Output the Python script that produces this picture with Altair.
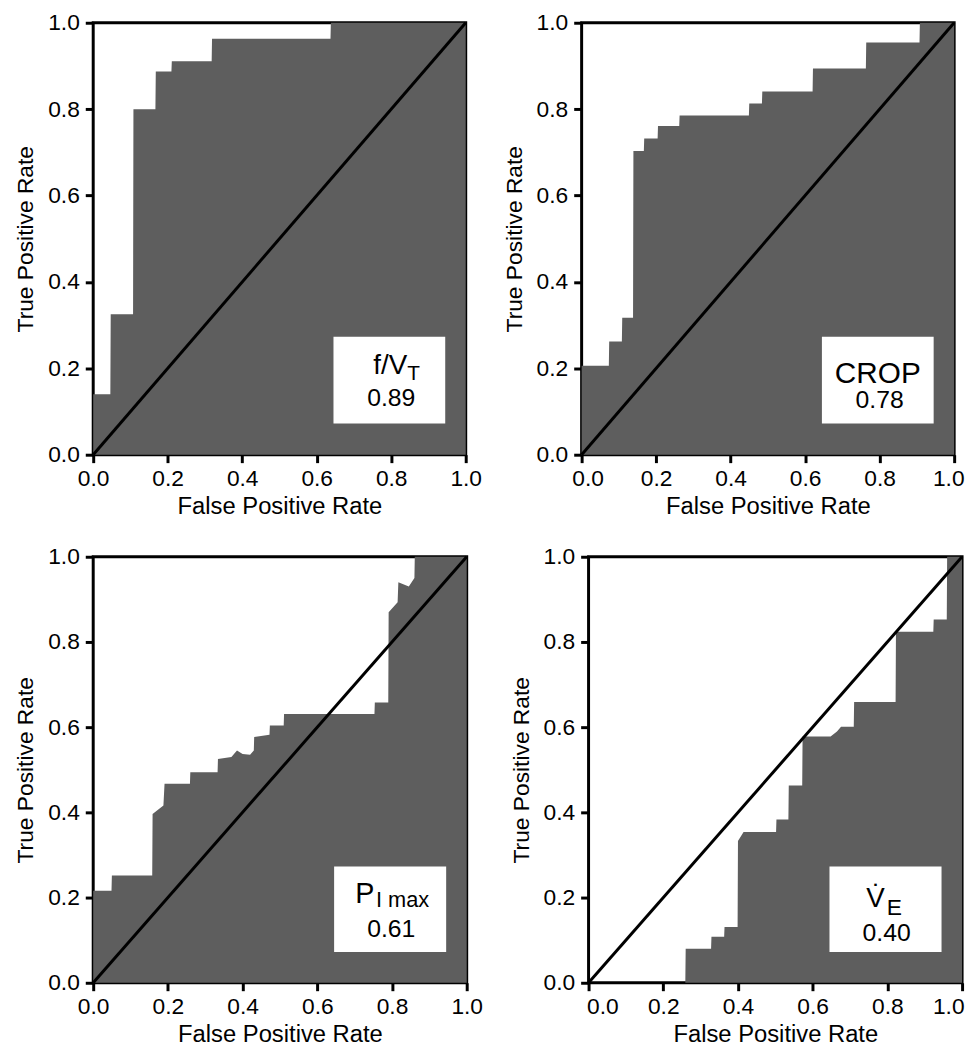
import altair as alt
import pandas as pd

FONT = "Liberation Sans"
FILL = "#5e5e5e"

# ---- ROC curves: False Positive Rate vs True Positive Rate (vertices of the stepped outline) ----
fv_fpr = [0, 0.046, 0.047, 0.107, 0.108, 0.167, 0.168, 0.21, 0.211, 0.318, 0.319, 0.637, 0.638, 1.0]
fv_tpr = [0.14, 0.14, 0.325, 0.325, 0.80, 0.80, 0.887, 0.887, 0.911, 0.911, 0.963, 0.963, 1.0, 1.0]

crop_fpr = [0, 0.073, 0.074, 0.108, 0.109, 0.138, 0.139, 0.167, 0.168, 0.204, 0.205, 0.262, 0.263,
            0.449, 0.45, 0.484, 0.485, 0.62, 0.621, 0.763, 0.764, 0.907, 0.908, 1.0]
crop_tpr = [0.206, 0.206, 0.262, 0.262, 0.317, 0.317, 0.703, 0.703, 0.732, 0.732, 0.761, 0.761, 0.785,
            0.785, 0.813, 0.813, 0.841, 0.841, 0.894, 0.894, 0.954, 0.954, 1.0, 1.0]

pi_fpr = [0, 0.049, 0.05, 0.158, 0.159, 0.188, 0.191, 0.259, 0.26, 0.333, 0.334, 0.37, 0.385, 0.40,
          0.42, 0.43, 0.431, 0.472, 0.473, 0.51, 0.511, 0.753, 0.754, 0.79, 0.791, 0.815, 0.817, 0.845,
          0.86, 0.861, 1.0]
pi_tpr = [0.216, 0.216, 0.252, 0.252, 0.396, 0.416, 0.467, 0.467, 0.494, 0.494, 0.525, 0.53, 0.545, 0.537,
          0.535, 0.545, 0.577, 0.582, 0.604, 0.604, 0.631, 0.631, 0.658, 0.658, 0.87, 0.893, 0.94, 0.93,
          0.95, 1.0, 1.0]

ve_fpr = [0, 0.259, 0.26, 0.328, 0.329, 0.363, 0.364, 0.399, 0.4, 0.415, 0.502, 0.503, 0.535, 0.536,
          0.572, 0.573, 0.648, 0.665, 0.676, 0.71, 0.711, 0.822, 0.823, 0.923, 0.924, 0.959, 0.96, 1.0]
ve_tpr = [0, 0, 0.08, 0.08, 0.108, 0.108, 0.131, 0.131, 0.333, 0.354, 0.354, 0.383, 0.383, 0.463,
          0.463, 0.578, 0.578, 0.59, 0.601, 0.601, 0.659, 0.659, 0.824, 0.824, 0.853, 0.853, 1.0, 1.0]

ticks = [0.0, 0.2, 0.4, 0.6, 0.8, 1.0]
auc_labels = ["0.89", "0.78", "0.61", "0.40"]


def xenc(flush=None):
    kw = dict(values=ticks, format=".1f", title="False Positive Rate", labelFlush=False)
    if flush is not None:
        kw["labelFlush"] = True
        kw["labelFlushOffset"] = flush
    return alt.X("fpr:Q", scale=alt.Scale(domain=[0, 1], nice=False), axis=alt.Axis(**kw))


def yenc():
    return alt.Y("tpr:Q", scale=alt.Scale(domain=[0, 1], nice=False),
                 axis=alt.Axis(values=ticks, format=".1f", title="True Positive Rate"))


one = pd.DataFrame({"k": [0]})


def txt(s, x, y, size, align="center"):
    return alt.Chart(one).mark_text(text=s, fontSize=size, align=align, baseline="alphabetic",
                                    font=FONT, color="black").encode(x=alt.datum(x), y=alt.datum(y))


def panel(fpr, tpr, texts, w, h, flush=None):
    df = pd.DataFrame({"fpr": fpr, "tpr": tpr})
    area = alt.Chart(df).mark_area(color=FILL, opacity=1, interpolate="linear").encode(
        x=xenc(flush), y=yenc())
    diag = alt.Chart(pd.DataFrame({"fpr": [0, 1], "tpr": [0, 1]})).mark_line(
        color="black", strokeWidth=3).encode(x=xenc(flush), y=yenc())
    box = alt.Chart(one).mark_rect(color="white").encode(
        x=alt.datum(0.645), x2=alt.datum(0.945), y=alt.datum(0.072), y2=alt.datum(0.273))
    return alt.layer(area, diag, box, *texts).properties(width=w, height=h)


p1 = panel(fv_fpr, fv_tpr,
           [txt("f/V", 0.843, 0.186, 28, "right"), txt("T", 0.843, 0.172, 21, "left"),
            txt(auc_labels[0], 0.80, 0.112, 25)], 376, 436)
p2 = panel(crop_fpr, crop_tpr,
           [txt("CROP", 0.795, 0.167, 30), txt(auc_labels[1], 0.80, 0.107, 25)], 376, 436, flush=10)
p3 = panel(pi_fpr, pi_tpr,
           [txt("P", 0.753, 0.188, 29, "right"), txt("I max", 0.757, 0.178, 22, "left"),
            txt(auc_labels[2], 0.798, 0.108, 25)], 377, 430)
p4 = panel(ve_fpr, ve_tpr,
           [txt("V\u0307", 0.793, 0.178, 28, "right"), txt("E", 0.798, 0.160, 23, "left"),
            txt(auc_labels[3], 0.798, 0.098, 25)], 377, 430, flush=2)

top = alt.hconcat(p1, p2, spacing=18)
bottom = alt.hconcat(p3, p4, spacing=24)

chart = alt.vconcat(top, bottom, spacing=24).properties(
    padding={"left": 5, "top": -3, "right": 0, "bottom": 0},
    background="white"
).configure_view(
    stroke="black", strokeWidth=3
).configure_axis(
    labelFont=FONT, titleFont=FONT, labelFontSize=23, titleFontWeight="normal",
    labelColor="black", titleColor="black", tickColor="black", tickWidth=3, tickSize=8,
    domain=False, grid=False, labelPadding=6
).configure_axisX(titlePadding=4, labelPadding=5, titleFontSize=24
).configure_axisY(titlePadding=10, titleFontSize=23)

chart.save("out.html", embed_options={"renderer": "svg", "actions": False})
